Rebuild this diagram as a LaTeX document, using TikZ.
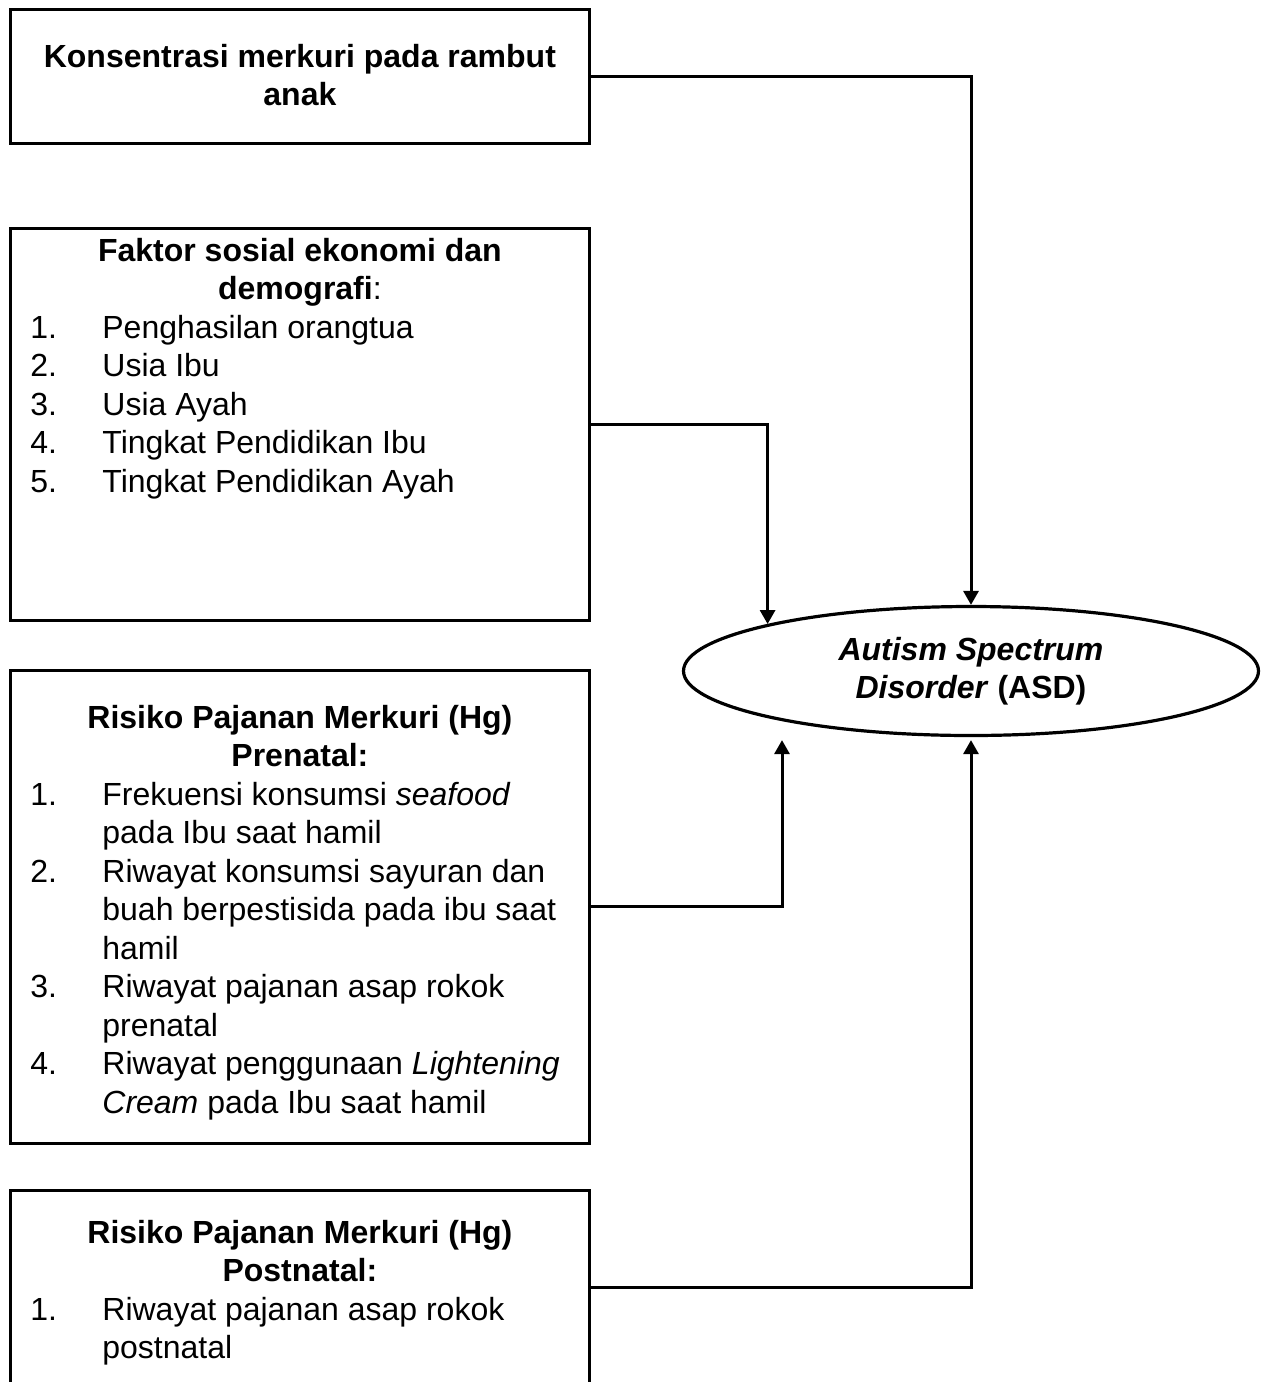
\documentclass[tikz,border=0pt]{standalone}
\usepackage{fontspec}
\setmainfont{Liberation Sans}
\usetikzlibrary{shapes.geometric,arrows.meta}
\newcommand{\boxfont}{\fontsize{16pt}{19.25pt}\selectfont}
\newcommand{\ttl}[1]{\multicolumn{2}{@{}l@{}}{\makebox[269.5pt]{#1}}}
\newcommand{\itemtab}[1]{\begin{tabular}[t]{@{}p{36pt}@{}l@{}}#1\end{tabular}}
\tikzset{
box/.style={draw,line width=1.5pt,minimum width=289.5pt,inner sep=0pt,outer sep=0pt,anchor=north west},
txt/.style={anchor=base west,inner sep=0pt,font=\boxfont},
link/.style={line width=1.5pt,-{Triangle[length=7pt,width=7.5pt]}}
}
\begin{document}
\begin{tikzpicture}[x=0.5pt,y=-0.5pt]
\useasboundingbox (0,0) rectangle (1265,1382);
\node[box,minimum height=67pt] (konsen) at (10,9) {};
\node[box,minimum height=196pt] (faktor) at (10,228) {};
\node[box,minimum height=236.5pt] (prenatal) at (10,670) {};
\node[box,minimum height=97.5pt] (postnatal) at (10,1190) {};
\node[ellipse,draw,line width=1.6pt,minimum width=287.5pt,minimum height=64.5pt,inner sep=0pt,align=center,font=\boxfont\bfseries] (asd) at (971,671) {\textit{Autism Spectrum}\\\textit{Disorder} (ASD)};
\node[txt] (konsentxt) at (30,67) {\itemtab{
\ttl{\textbf{Konsentrasi merkuri pada rambut}}\\
\ttl{\textbf{anak}}}};
\node[txt] (faktortxt) at (30,261) {\itemtab{
\ttl{\textbf{Faktor sosial ekonomi dan}}\\
\ttl{\textbf{demografi}:}\\
1. & Penghasilan orangtua\\
2. & Usia Ibu\\
3. & Usia Ayah\\
4. & Tingkat Pendidikan Ibu\\
5. & Tingkat Pendidikan Ayah}};
\node[txt] (prenataltxt) at (30,728) {\itemtab{
\ttl{\textbf{Risiko Pajanan Merkuri (Hg)}}\\
\ttl{\textbf{Prenatal:}}\\
1. & Frekuensi konsumsi \textit{seafood}\\
 & pada Ibu saat hamil\\
2. & Riwayat konsumsi sayuran dan\\
 & buah berpestisida pada ibu saat\\
 & hamil\\
3. & Riwayat pajanan asap rokok\\
 & prenatal\\
4. & Riwayat penggunaan \textit{Lightening}\\
 & \textit{Cream} pada Ibu saat hamil}};
\node[txt] (postnataltxt) at (30,1243) {\itemtab{
\ttl{\textbf{Risiko Pajanan Merkuri (Hg)}}\\
\ttl{\textbf{Postnatal:}}\\
1. & Riwayat pajanan asap rokok\\
 & postnatal}};
\draw[link] (konsen.east) -| (asd.north);
\draw[link] (faktor.east) -| (asd.167);
\draw[link] (prenatal.east) -| ([xshift=-94.5pt,yshift=-1.5pt]asd.south);
\draw[link] (postnatal.east) -| ([yshift=-1.5pt]asd.south);
\end{tikzpicture}
\end{document}
